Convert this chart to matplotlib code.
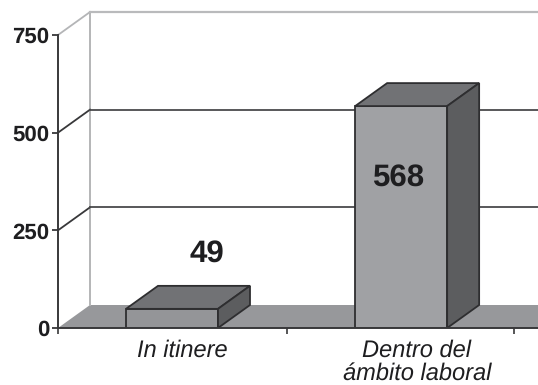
import matplotlib
matplotlib.use("Agg")
import matplotlib.pyplot as plt
from matplotlib.patches import Polygon

categories = ['In itinere', 'Dentro del\námbito laboral']
values = [49, 568]
y_ticks = [0, 250, 500, 750]

plt.rcParams['font.family'] = ['Liberation Sans', 'DejaVu Sans']
plt.rcParams['text.hinting'] = 'no_hinting'

W, H = 538, 385
fig = plt.figure(figsize=(W / 100, H / 100), dpi=100)
ax = fig.add_axes([58 / W, (H - 328) / H, 480 / W, 293 / H])

# one category is 228 px wide, the y scale is 293 px for 750 units
x_max = 480 / 228
ax.set_xlim(0, x_max)
ax.set_ylim(0, 750)
ax.patch.set_visible(False)

# 3d depth of the box, in data units
dx = 32 / 228
dy = 23 * 750 / 293
bar_w = 92 / 228
centers = [0.5, 1.505]

dark = '#38383a'
light = '#b4b5b7'
text_col = '#1e1e20'

# floor
ax.add_patch(Polygon([(0, 0), (dx, dy), (x_max, dy), (x_max, 0)],
                     closed=True, fc='#97989b', ec='none', zorder=1))

# back wall and gridlines
ax.plot([dx, dx], [dy, 750 + dy], color=light, lw=1.4, zorder=2, clip_on=False)
ax.plot([0, dx], [750, 750 + dy], color=light, lw=1.3, zorder=2, clip_on=False)
ax.plot([dx, x_max], [750 + dy, 750 + dy], color='#b9babc', lw=1.6, zorder=2, clip_on=False)
for t in y_ticks[1:-1]:
    ax.plot([0, dx], [t, t + dy], color=dark, lw=1.3, zorder=2)
    ax.plot([dx, x_max], [t + dy, t + dy], color='#4a4a4c', lw=1.3, zorder=2)

# boxes: front from the bar call, top and side as polygons
front_colors = ['#949598', '#a0a1a4']
for cx, v, fc in zip(centers, values, front_colors):
    ax.bar(cx, v, width=bar_w, color=fc, edgecolor='#2e2e30', linewidth=1.3, zorder=3)
    left = cx - bar_w / 2
    right = cx + bar_w / 2
    ax.add_patch(Polygon([(left, v), (left + dx, v + dy), (right + dx, v + dy), (right, v)],
                         closed=True, fc='#717275', ec='#2e2e30', lw=1.3, zorder=3))
    ax.add_patch(Polygon([(right, 0), (right + dx, dy), (right + dx, v + dy), (right, v)],
                         closed=True, fc='#5c5d5f', ec='#2e2e30', lw=1.3, zorder=3))

# value labels
label_x = [149 / 228, 340 / 228]
label_y = [190, 384]
for lx, ly, v in zip(label_x, label_y, values):
    ax.text(lx, ly, str(v), ha='center', va='center', fontsize=22.5, fontweight='bold',
            color=text_col, zorder=4)

# axes
for side in ['top', 'right']:
    ax.spines[side].set_visible(False)
for side in ['left', 'bottom']:
    ax.spines[side].set_color(dark)
    ax.spines[side].set_linewidth(1.4)
    ax.spines[side].set_zorder(5)

ax.set_yticks(y_ticks)
ax.set_yticklabels([str(t) for t in y_ticks], fontsize=16, fontweight='bold', color=text_col)
ax.tick_params(axis='y', length=4, width=1.3, color=dark, pad=2)
ax.set_xticks([0, 229 / 228, 2])
ax.set_xticklabels([])
ax.tick_params(axis='x', length=4, width=1.2, color=dark)

# category names sit a little right of the bar centres
name_x = [124 / 228, 359 / 228]
name_y = [-57, -87]
for nx, ny, name in zip(name_x, name_y, categories):
    ax.text(nx, ny, name, ha='center', va='center', fontsize=17, fontstyle='italic',
            color=text_col, linespacing=1.02, clip_on=False)

fig.savefig('out.png', dpi=100)
